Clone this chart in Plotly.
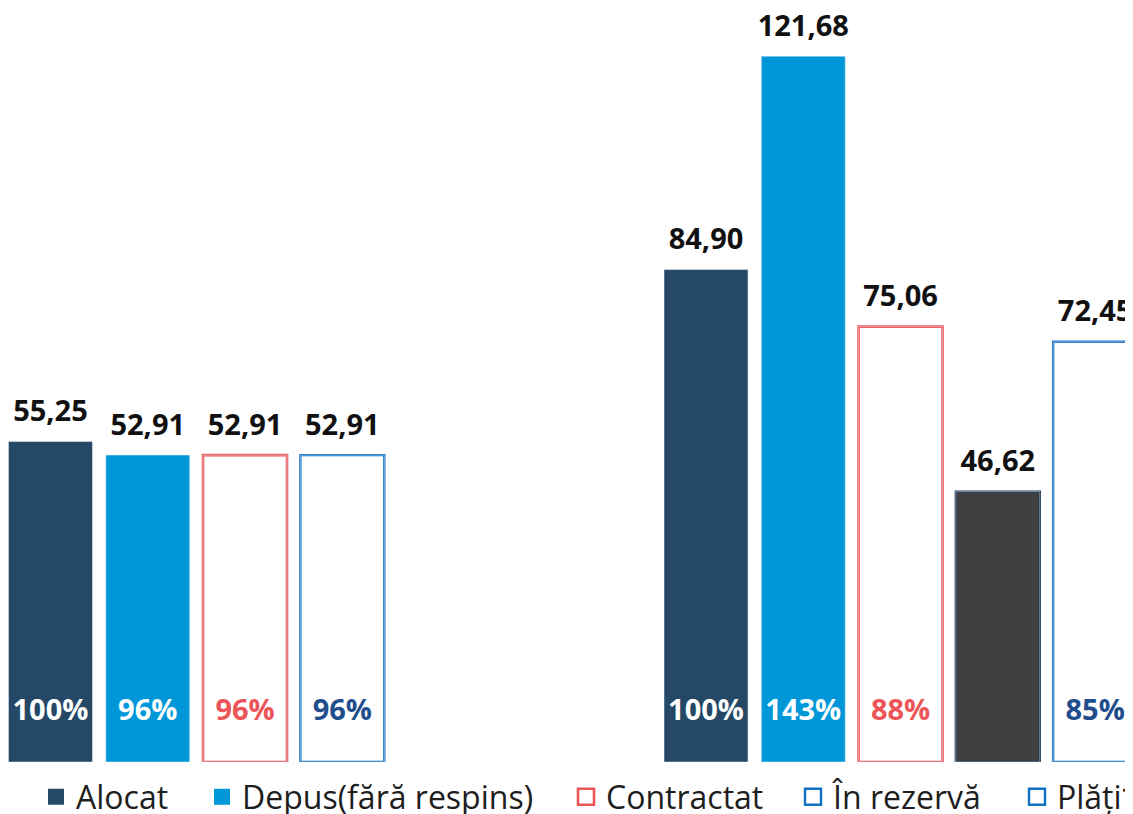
import plotly.graph_objects as go

groups = ["2014-2020", "2021-2027"]
series = ["Alocat", "Depus(fără respins)", "Contractat", "În rezervă", "Plăți*"]

alocat = [55.25, 84.90]
depus = [52.91, 121.68]
contractat = [52.91, 75.06]
rezerva = [52.91, 46.62]
plati = [None, 72.45]

pct_alocat = ["100%", "100%"]
pct_depus = ["96%", "143%"]
pct_contractat = ["96%", "88%"]
pct_rezerva = ["96%", ""]
pct_plati = ["", "85%"]

values = [alocat, depus, contractat, rezerva, plati]
percents = [pct_alocat, pct_depus, pct_contractat, pct_rezerva, pct_plati]

# fill, outline, outline width, percent colour, legend left (px)
styles = [
    (["#244866"] * 2, ["#244866"] * 2, 0, "white", 28),
    (["#0097D9"] * 2, ["#0097D9"] * 2, 0, "white", 194),
    (["white"] * 2, ["#EC5558"] * 2, 2.6, "#EC5558", 558),
    (["white", "#404040"], ["#1270C2", "#1C3550"], 2.4, "#1F4E8C", 785),
    (["white"] * 2, ["#1270C2"] * 2, 2.4, "#1F4E8C", 1009),
]

# page has an 8px body margin, so the figure is 8px smaller than the window
W, H = 1125, 806
FONT = "Open Sans"
LABEL = 29


def fmt(v):
    if v is None:
        return ""
    s = f"{v:.2f}".replace(".", ",")
    return f"<span style='font-size:{LABEL}px'>{s}</span><br>\u00a0"


def pct(p):
    return f"<span style='font-size:{LABEL}px'>{p}</span><br>\u00a0" if p else ""


fig = go.Figure()
for i, (name, vals, pcts) in enumerate(zip(series, values, percents)):
    fill, line, lw, pcolor, lx = styles[i]
    leg = "legend" if i == 0 else f"legend{i + 1}"
    fig.add_trace(go.Bar(
        x=groups, y=vals, offsetgroup=str(i), showlegend=False,
        marker=dict(color=fill, line=dict(color=line, width=lw)),
        text=[fmt(v) for v in vals], textposition="outside",
        textfont=dict(family=FONT, size=11, color="#111111", weight="bold"),
        constraintext="none", cliponaxis=False, hoverinfo="skip"))
    fig.add_trace(go.Bar(
        x=groups, y=vals, offsetgroup=str(i), showlegend=False,
        marker=dict(color="rgba(0,0,0,0)"),
        text=[pct(p) for p in pcts],
        textposition="inside", insidetextanchor="start", textangle=0,
        textfont=dict(family=FONT, size=25, color=pcolor, weight="bold"),
        insidetextfont=dict(family=FONT, size=25, color=pcolor, weight="bold"),
        constraintext="none", hoverinfo="skip"))
    # legend entry
    fig.add_trace(go.Scatter(
        x=[None], y=[None], mode="markers", name=name, legend=leg,
        marker=dict(symbol="square", size=18, color=fill[0],
                    line=dict(color=line[0], width=lw))))
    fig.update_layout({leg: dict(
        orientation="h", x=lx / W, xanchor="left",
        y=-35 / 754, yanchor="middle", itemsizing="trace",
        font=dict(family=FONT, size=32, color="#1E1E1E"),
        bgcolor="rgba(0,0,0,0)")})

fig.update_layout(
    width=W, height=H,
    barmode="group", bargap=0.258, bargroupgap=0.137,
    margin=dict(l=0, r=0, t=0, b=52, autoexpand=False),
    plot_bgcolor="white", paper_bgcolor="white",
    xaxis=dict(visible=False, range=[-0.3616, 1.3546]),
    yaxis=dict(visible=False, range=[0, 130.0]),
    font=dict(family=FONT),
)

fig.write_html("out.html")
